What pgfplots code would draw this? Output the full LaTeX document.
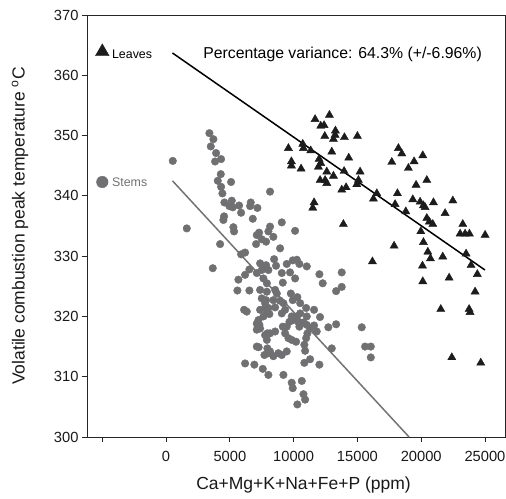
\documentclass[border=0pt]{standalone}
\usepackage{fontspec}
\setmainfont{Liberation Sans}
\usepackage{pgfplots}
\usepackage{pgfplotstable}
\pgfplotsset{compat=1.18}
\definecolor{stemgray}{RGB}{112,112,114}
\definecolor{leafblack}{RGB}{28,28,28}
\definecolor{linegray}{RGB}{115,115,115}

\pgfplotstableread{
x y
11682 352.7
12805 353.4
12126 351.6
12387 351.7
13276 350.8
12440 349.9
13250 350.1
13120 349.4
13980 349.7
15000 349.9
9590 347.9
10715 348.6
10767 347.9
11340 347.5
9825 345.7
9825 345.0
10584 344.5
11995 346.1
12126 345.4
11943 344.8
12990 347.3
14320 346.3
12597 344.0
13120 343.3
13955 344.1
12074 342.6
12466 342.6
12597 342.1
13773 341.0
14112 341.4
14950 341.9
15080 342.6
15210 344.0
18215 347.9
18480 347.0
17695 345.6
19443 345.7
20125 346.7
18997 344.6
19600 341.8
20440 342.6
16520 340.4
16255 339.5
18137 340.4
17954 338.6
18793 337.4
19342 339.4
19914 339.0
20175 338.4
20306 338.1
20960 338.9
22480 339.2
21874 337.1
11603 338.9
11500 338.0
13900 335.3
20440 336.3
20640 335.7
20910 335.3
23260 335.3
23050 333.7
23440 333.7
23780 333.7
25010 333.5
17875 331.7
20175 332.3
19970 334.1
16177 329.1
20520 330.7
20725 329.6
21690 329.9
23520 330.4
23910 328.5
20100 328.4
20125 325.8
22190 326.4
24400 327.0
24225 324.1
21535 321.2
23755 321.2
23830 320.7
22400 313.2
24670 312.3
}\leaves

\pgfplotstableread{
x y
525 345.8
3395 350.4
3708 349.4
3504 348.2
3920 347.1
3842 345.7
4312 346.1
4288 343.6
4053 342.5
5096 342.3
4312 341.5
4414 340.4
4571 338.9
5150 339.2
5230 338.1
4963 338.3
5723 338.4
6640 338.9
6586 338.3
7158 338.0
5880 337.2
4547 336.6
4492 336.0
6797 336.2
8150 340.7
1622 334.6
5276 334.8
8150 334.9
8020 334.1
8410 333.2
9070 335.6
10114 334.2
7500 332.8
7840 332.4
8940 331.3
5330 334.1
7110 333.5
7290 333.9
4234 332.0
7056 332.0
5880 330.3
6194 330.6
3660 328.0
6530 327.8
7370 328.8
7840 328.5
7110 327.2
7500 327.7
6194 326.9
5670 326.1
7630 326.3
7900 325.5
5590 324.3
6530 324.3
7370 324.4
7900 324.1
7500 323.0
7840 322.7
7760 321.4
6115 321.1
6325 320.8
7370 321.1
7630 320.0
7240 319.4
7900 320.5
7315 318.6
7370 318.0
7110 317.8
7110 318.8
7940 317.2
7900 316.1
7110 315.0
7260 314.9
7710 313.6
8020 313.9
6194 312.2
6920 312.0
7580 311.3
8020 310.3
8470 329.5
8020 327.7
8620 328.4
9460 328.7
9930 329.3
10250 329.4
10450 328.7
11030 328.3
9070 327.2
9720 327.3
10114 326.3
9150 325.6
12020 327.0
12280 325.5
13770 327.3
13770 324.9
13330 324.2
8550 324.4
8680 323.8
9780 323.8
9930 322.7
10290 323.2
10510 322.2
8410 322.7
8550 321.5
7760 322.2
8020 321.4
8100 320.4
8940 322.6
9200 322.2
9330 321.1
9070 320.5
10980 321.4
11030 320.0
11600 321.1
12070 319.9
9850 320.0
10250 320.0
10510 320.5
9980 319.4
11600 318.5
11030 318.6
11290 318.0
12720 318.2
13330 318.7
15340 318.2
7760 316.9
8150 317.2
8550 317.5
9150 318.3
9460 318.3
9330 317.2
9670 319.1
10370 319.1
10450 318.3
10770 319.0
11810 317.5
11080 317.2
10980 316.4
10840 315.3
10900 314.3
10190 315.8
9850 316.1
9590 316.4
7940 314.7
8150 314.2
8410 313.4
8800 313.9
9070 313.6
9460 314.2
10840 312.3
11290 312.9
12020 312.0
9200 310.3
9850 309.0
9930 308.1
10640 309.3
10770 307.1
10900 306.2
10290 305.4
12990 314.7
15600 315.0
16050 315.0
16050 313.2
}\stems

\begin{document}
\begin{tikzpicture}
\begin{axis}[
  scale only axis,
  width=418pt, height=422pt,
  xmin=-6200, xmax=26570,
  ymin=300, ymax=370,
  clip=false,
  axis line style={line width=0.9pt, black!85},
  tick style={line width=0.9pt, black!85},
  tick align=outside,
  major tick length=5pt,
  xtick pos=bottom, ytick pos=left,
  xtick={-5000,0,5000,10000,15000,20000,25000},
  xticklabels={,0,5000,10000,15000,20000,25000},
  ytick={300,310,...,370},
  scaled x ticks=false,
  /pgf/number format/1000 sep={},
  /pgf/number format/assume math mode=true,
  ticklabel style={font=\fontsize{14.7}{16}\selectfont, black!90},
  xticklabel style={yshift=-6pt},
  xlabel={Ca+Mg+K+Na+Fe+P (ppm)},
  ylabel={Volatile combustion peak temperature \textsuperscript{o}C},
  label style={font=\fontsize{17.5}{19}\selectfont, black!90},
  xlabel style={at={(axis description cs:0.518,-0.1137)}, anchor=center},
  ylabel style={at={(axis description cs:-0.1603,0.5)}, anchor=center},
]
\addplot[only marks, mark=*, mark size=3.8pt, color=stemgray] table[x=x,y=y]{\stems};
\addplot[only marks, mark=triangle*, mark size=4.7pt, color=leafblack] table[x=x,y=y]{\leaves};
\addplot[line width=1.5pt, color=black] coordinates {(500,363.7) (25000,327.7)};
\addplot[line width=1.5pt, color=linegray] coordinates {(500,342.5) (19050,300)};
\addplot[only marks, mark=triangle*, mark size=7.9pt, color=leafblack] coordinates {(-5000,363.9)};
\addplot[only marks, mark=*, mark size=5.8pt, color=stemgray] coordinates {(-5000,342.3)};
\node[anchor=west, inner sep=0pt, font=\fontsize{12.4}{14}\selectfont] at (axis cs:-4250,363.5) {Leaves};
\node[anchor=west, inner sep=0pt, font=\fontsize{12.4}{14}\selectfont, text=stemgray] at (axis cs:-4250,342.2) {Stems};
\node[anchor=west, inner sep=0pt, font=\fontsize{15.8}{17}\selectfont] at (axis cs:2900,363.5) {Percentage variance: 64.3\% (+/-6.96\%)};
\end{axis}
\pgfresetboundingbox
\path (current axis.south west) ++(-87pt,-61pt) rectangle ++(506pt,498pt);
\end{tikzpicture}
\end{document}
